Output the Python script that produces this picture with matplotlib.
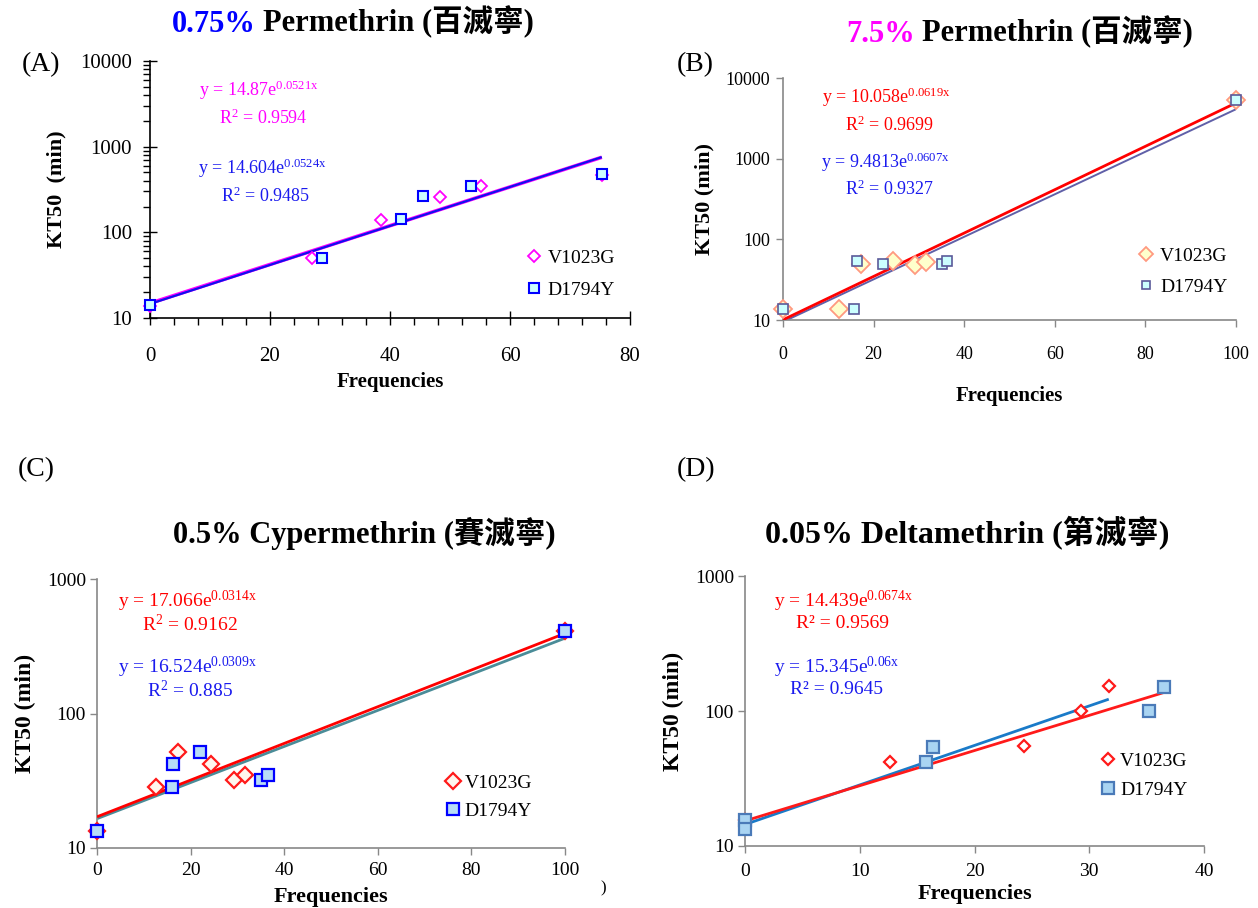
import numpy as np
import matplotlib
matplotlib.use('Agg')
import matplotlib.pyplot as plt
from matplotlib.text import Annotation
from matplotlib.ticker import FixedLocator, NullFormatter, LogLocator, MultipleLocator

plt.rcParams['font.family'] = ['Liberation Serif', 'Noto Sans CJK TC']
plt.rcParams['mathtext.fontset'] = 'custom'
plt.rcParams['mathtext.rm'] = 'Liberation Serif'
plt.rcParams['mathtext.it'] = 'Liberation Serif:italic'
plt.rcParams['mathtext.bf'] = 'Liberation Serif:bold'

# ---------------- data ----------------
labels = ['V1023G', 'D1794Y']

# (A) 0.75% Permethrin
a_v_x = [0, 27.0, 38.5, 48.4, 55.1, 75.3]
a_v_y = [13.7, 50, 141, 257, 343, 470]
a_d_x = [0, 28.6, 41.9, 45.5, 53.5, 75.3]
a_d_y = [14, 50, 145, 264, 349, 482]
a_fit_v = (14.87, 0.0521, 0, 75.3)
a_fit_d = (14.604, 0.0524, 0, 75.3)
a_eq_v = [r'y = 14.87e$^{\mathrm{0.0521x}}$', r'R$^{\mathrm{2}}$ = 0.9594']
a_eq_d = [r'y = 14.604e$^{\mathrm{0.0524x}}$', r'R$^{\mathrm{2}}$ = 0.9485']

# (B) 7.5% Permethrin
b_v_x = [0, 12.4, 17.3, 24.2, 29.2, 31.6, 100]
b_v_y = [13.5, 13.5, 48.9, 54, 48, 53, 5395]
b_d_x = [0, 15.6, 16.3, 22.0, 35.0, 36.3, 100]
b_d_y = [13.8, 13.8, 54, 49.8, 50, 54, 5400]
b_fit_v = (10.058, 0.0619, 0, 100)
b_fit_d = (9.4813, 0.0607, 0, 100)
b_eq_v = [r'y = 10.058e$^{\mathrm{0.0619x}}$', r'R$^{\mathrm{2}}$ = 0.9699']
b_eq_d = [r'y = 9.4813e$^{\mathrm{0.0607x}}$', r'R$^{\mathrm{2}}$ = 0.9327']

# (C) 0.5% Cypermethrin
c_v_x = [0, 12.6, 17.3, 24.3, 29.2, 31.7, 100]
c_v_y = [13.3, 28.4, 51.3, 42.3, 32, 34.8, 413]
c_d_x = [0, 16.0, 16.3, 22.1, 35.1, 36.5, 100]
c_d_y = [13.3, 28.4, 42.3, 51.3, 32, 34.7, 413]
c_fit_v = (17.066, 0.0314, 0, 100)
c_fit_d = (16.524, 0.0309, 0, 100)
c_eq_v = [r'y = 17.066e$^{\mathrm{0.0314x}}$', r'R$^{\mathrm{2}}$ = 0.9162']
c_eq_d = [r'y = 16.524e$^{\mathrm{0.0309x}}$', r'R$^{\mathrm{2}}$ = 0.885']

# (D) 0.05% Deltamethrin
d_v_x = [0, 12.6, 24.3, 29.3, 31.7]
d_v_y = [15.6, 42.2, 54.7, 100, 154]
d_d_x = [0, 0, 15.8, 16.4, 35.2, 36.5]
d_d_y = [15.6, 13.3, 41.9, 54, 100, 151]
d_fit_red = (15.345, 0.06, 0, 36.5)
d_fit_blue = (14.439, 0.0674, 0, 31.7)
d_eq_v = [r'y = 14.439e$^{\mathrm{0.0674x}}$', 'R² = 0.9569']
d_eq_d = [r'y = 15.345e$^{\mathrm{0.06x}}$', 'R² = 0.9645']

titles = [('0.75%', 'Permethrin (百滅寧)', '#0000ff'),
          ('7.5%', 'Permethrin (百滅寧)', '#ff00ff'),
          ('0.5% Cypermethrin (賽滅寧)', '', 'black'),
          ('0.05% Deltamethrin (第滅寧)', '', 'black')]

# ---------------- figure ----------------
W, H = 1258, 908
fig = plt.figure(figsize=(W / 100, H / 100), dpi=100)


def P(x, y):
    return (x / W, 1 - y / H)


def make_axes(l, r, t, b):
    return fig.add_axes([l / W, 1 - b / H, (r - l) / W, (b - t) / H])


def fit_line(ax, fit, color, lw, z=2):
    a, k, x0, x1 = fit
    xs = np.array([x0, x1])
    ax.plot(xs, a * np.exp(k * xs), color=color, lw=lw, zorder=z, solid_capstyle='butt')


def style_axes(ax, xlim, ylim, xticks, yticks, color, xpad, ypad, fs):
    ax.set_yscale('log')
    ax.set_xlim(*xlim)
    ax.set_ylim(*ylim)
    for s in ['top', 'right']:
        ax.spines[s].set_visible(False)
    for s in ['left', 'bottom']:
        ax.spines[s].set_color(color)
        ax.spines[s].set_linewidth(1.2)
    ax.xaxis.set_major_locator(FixedLocator(xticks))
    ax.set_xticklabels([str(t) for t in xticks])
    ax.yaxis.set_major_locator(FixedLocator(yticks))
    ax.set_yticklabels([str(t) for t in yticks])
    ax.yaxis.set_minor_formatter(NullFormatter())
    ax.tick_params(axis='x', pad=xpad, labelsize=fs, color=color)
    ax.tick_params(axis='y', pad=ypad, labelsize=fs, color=color)
    ax.set_facecolor('none')


def equations(lines, color, xy1, xy2, fs):
    fig.text(*P(*xy1), lines[0], color=color, fontsize=fs, va='center', ha='left')
    fig.text(*P(*xy2), lines[1], color=color, fontsize=fs, va='center', ha='left')


def title(parts, x, y, fs):
    t1 = fig.text(*P(x, y), parts[0], color=parts[2], fontsize=fs, fontweight='bold',
                  va='center', ha='left')
    if parts[1]:
        fig.add_artist(Annotation(parts[1], xy=(1, 0), xycoords=t1,
                                  xytext=(5, 0), textcoords='offset points', va='bottom',
                                  ha='left', color='black', fontsize=fs, fontweight='bold'))


# ---------------- Panel A ----------------
axA = make_axes(150, 630, 61, 318)
style_axes(axA, (0, 80), (10, 10000), [0, 20, 40, 60, 80], [10, 100, 1000, 10000],
           'black', 16, 8, 15)
axA.yaxis.set_minor_locator(LogLocator(base=10, subs=np.arange(2, 10)))
axA.xaxis.set_minor_locator(MultipleLocator(4))
axA.tick_params(which='major', direction='inout', length=10, width=1)
axA.tick_params(which='minor', direction='out', length=5, width=1)
fit_line(axA, a_fit_v, '#ff00ff', 2.6)
fit_line(axA, a_fit_d, '#1010ee', 1.6, z=3)
axA.plot(a_v_x, a_v_y, 'D', ms=6, mfc='white', mec='#ff00ff', mew=1.3, ls='none',
         label=labels[0], clip_on=False, zorder=4)
axA.plot(a_d_x, a_d_y, 's', ms=7.5, mfc='#ccffff', mec='#0000ff', mew=1.5, ls='none',
         label=labels[1], clip_on=False, zorder=5)
axA.legend(loc='center left', bbox_to_anchor=(0.755, 0.17), frameon=False, fontsize=14,
           handletextpad=0.1, labelspacing=0.75, handlelength=1.2, borderpad=0)
axA.set_xlabel('Frequencies', fontsize=15, fontweight='bold', labelpad=4)
axA.set_ylabel('KT50  (min)', fontsize=16, fontweight='bold', labelpad=10)
equations(a_eq_v, '#ff00ff', (199, 90), (219, 118), 13)
equations(a_eq_d, '#1a1aee', (198, 168), (221, 196), 13)

# ---------------- Panel B ----------------
axB = make_axes(783, 1236, 78, 320)
style_axes(axB, (0, 100), (10, 10000), [0, 20, 40, 60, 80, 100], [10, 100, 1000, 10000],
           '#888888', 14, 4, 13)
axB.tick_params(which='major', direction='out', length=5, width=1)
axB.tick_params(which='minor', length=0)
fit_line(axB, b_fit_v, '#ff0000', 2.0, z=3)
fit_line(axB, b_fit_d, '#6060a8', 1.4)
axB.plot(b_v_x, b_v_y, 'D', ms=9.5, mfc='#ffffcc', mec='#ff9a80', mew=1.3, ls='none',
         label=labels[0], clip_on=False, zorder=4)
axB.plot(b_d_x, b_d_y, 's', ms=6.5, mfc='#ccffff', mec='#5a5a9a', mew=1.2, ls='none',
         label=labels[1], clip_on=False, zorder=5)
axB.legend(loc='center left', bbox_to_anchor=(0.755, 0.2), frameon=False, fontsize=14,
           handletextpad=0.1, labelspacing=0.7, handlelength=1.2, borderpad=0,
           markerscale=0.8)
axB.set_xlabel('Frequencies', fontsize=15, fontweight='bold', labelpad=16)
axB.set_ylabel('KT50 (min)', fontsize=16, fontweight='bold', labelpad=8)
equations(b_eq_v, '#ff0000', (822, 97), (845, 125), 13)
equations(b_eq_d, '#1a1aee', (821, 162), (845, 189), 13)

# ---------------- Panel C ----------------
axC = make_axes(97, 565, 579, 848)
style_axes(axC, (0, 100), (10, 1000), [0, 20, 40, 60, 80, 100], [10, 100, 1000],
           '#888888', 5, 3, 14)
axC.tick_params(which='major', direction='out', length=5, width=1)
axC.tick_params(which='minor', length=0)
fit_line(axC, c_fit_v, '#ff0000', 2.0, z=3)
fit_line(axC, c_fit_d, '#4a8c98', 2.0)
axC.plot(c_v_x, c_v_y, 'D', ms=8, mfc='#fff6ee', mec='#ff1a1a', mew=1.6, ls='none',
         label=labels[0], clip_on=False, zorder=4)
axC.plot(c_d_x, c_d_y, 's', ms=9, mfc='#b7dcf7', mec='#0000ff', mew=1.6, ls='none',
         label=labels[1], clip_on=False, zorder=5)
axC.legend(loc='center left', bbox_to_anchor=(0.715, 0.19), frameon=False, fontsize=14,
           handletextpad=0.0, labelspacing=0.55, handlelength=1.2, borderpad=0)
axC.set_xlabel('Frequencies', fontsize=16, fontweight='bold', labelpad=6)
axC.set_ylabel('KT50 (min)', fontsize=17, fontweight='bold', labelpad=8)
equations(c_eq_v, '#ff0000', (118, 601), (142, 625), 14)
equations(c_eq_d, '#1a1aee', (118, 667), (147, 691), 14)

# ---------------- Panel D ----------------
axD = make_axes(745, 1204, 576, 846)
style_axes(axD, (0, 40), (10, 1000), [0, 10, 20, 30, 40], [10, 100, 1000],
           '#888888', 7, 3, 14)
axD.tick_params(which='major', direction='out', length=5, width=1)
axD.tick_params(which='minor', length=0)
fit_line(axD, d_fit_red, '#ff1a1a', 2.0, z=3)
fit_line(axD, d_fit_blue, '#1a7ac8', 2.0)
axD.plot(d_v_x, d_v_y, 'D', ms=6.5, mfc='white', mec='#ff1a1a', mew=1.6, ls='none',
         label=labels[0], clip_on=False, zorder=4)
axD.plot(d_d_x, d_d_y, 's', ms=9, mfc='#a9d4f2', mec='#4a7ab8', mew=1.6, ls='none',
         label=labels[1], clip_on=False, zorder=5)
axD.legend(loc='center left', bbox_to_anchor=(0.745, 0.26), frameon=False, fontsize=14,
           handletextpad=0.0, labelspacing=0.6, handlelength=1.2, borderpad=0)
axD.set_xlabel('Frequencies', fontsize=16, fontweight='bold', labelpad=3)
axD.set_ylabel('KT50 (min)', fontsize=17, fontweight='bold', labelpad=8)
equations(d_eq_v, '#ff0000', (774, 601), (796, 624), 14)
equations(d_eq_d, '#1a1aee', (774, 667), (790, 690), 14)

# ---------------- titles / panel letters ----------------
title(titles[0], 172, 24, 22)
title(titles[1], 846, 34, 22)
title(titles[2], 173, 533, 22)
title(titles[3], 765, 533, 23)

for lab, x, y in [('(A)', 22, 65), ('(B)', 677, 65), ('(C)', 18, 470), ('(D)', 677, 470)]:
    fig.text(*P(x, y), lab, fontsize=20, va='center', ha='left')
fig.text(*P(603, 888), ')', fontsize=12, va='center', ha='center')

fig.savefig('out.png', dpi=100, facecolor='white')
